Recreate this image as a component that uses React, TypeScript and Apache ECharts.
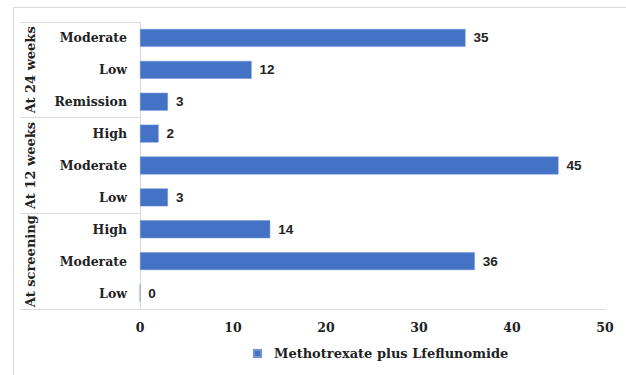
import React, { useEffect, useRef } from "react";
import * as echarts from "echarts";

const categories = ["Moderate", "Low", "Remission", "High", "Moderate", "Low", "High", "Moderate", "Low"];
const groups = ["At 24 weeks", "At 12 weeks", "At screening"];
const values = [35, 12, 3, 2, 45, 3, 14, 36, 0];
const seriesName = "Methotrexate plus Lfeflunomide";
const xTicks = { min: 0, max: 50, interval: 10 };

const SERIF = "'DejaVu Serif', serif";
const SANS = "'Liberation Sans', Arial, sans-serif";

export default function App() {
  const ref = useRef<HTMLDivElement>(null);
  useEffect(() => {
    if (!ref.current) return;
    const chart = echarts.init(ref.current, null, { renderer: "svg" });
    chart.setOption({
      animation: false,
      backgroundColor: "#fff",
      graphic: [
        {
          type: "rect",
          shape: { x: 13.5, y: 7.5, width: 640, height: 400 },
          style: { fill: "none", stroke: "#d9d9d9", lineWidth: 1 },
          silent: true,
        },
      ],
      grid: { left: 140, right: 21, top: 22, bottom: 66, containLabel: false },
      legend: {
        bottom: 10,
        left: 248,
        data: [seriesName],
        icon: "rect",
        itemWidth: 7,
        itemHeight: 7,
        itemGap: 9,
        textStyle: {
          fontFamily: SERIF,
          fontWeight: "bold",
          fontSize: 13,
          color: "#222",
          padding: [0, 0, 0, 8],
        },
      },
      xAxis: {
        type: "value",
        min: xTicks.min,
        max: xTicks.max,
        interval: xTicks.interval,
        splitLine: { show: false },
        axisLine: { show: true, lineStyle: { color: "#d9d9d9", width: 1 } },
        axisTick: { show: false },
        axisLabel: { fontFamily: SERIF, fontWeight: "bold", fontSize: 12.5, color: "#222", margin: 12 },
      },
      yAxis: [
        {
          type: "category",
          data: categories,
          inverse: true,
          axisLine: { show: true, lineStyle: { color: "#d9d9d9", width: 1 } },
          axisTick: { show: false },
          axisLabel: { interval: 0, fontFamily: SERIF, fontWeight: "bold", fontSize: 12.5, color: "#222", margin: 13 },
        },
        {
          type: "category",
          data: groups,
          inverse: true,
          position: "left",
          offset: 0,
          axisLine: { show: false },
          axisTick: { show: true, interval: 0, length: 120, lineStyle: { color: "#d9d9d9", width: 1 } },
          axisLabel: {
            interval: 0,
            hideOverlap: false,
            rotate: 90,
            fontFamily: SERIF,
            fontWeight: "bold",
            fontSize: 13,
            color: "#222",
            margin: 103,
          },
        },
      ],
      series: [
        {
          name: seriesName,
          type: "bar",
          yAxisIndex: 0,
          data: values,
          barWidth: "56%",
          itemStyle: { color: "#4472C4", borderColor: "#6f93d6", borderWidth: 0.5 },
          label: {
            show: true,
            position: "right",
            distance: 8,
            fontFamily: SANS,
            fontWeight: "bold",
            fontSize: 13.5,
            color: "#222",
          },
        },
      ],
    });
    return () => chart.dispose();
  }, []);
  return <div ref={ref} style={{ width: 626, height: 375, position: "absolute", left: 0, top: 0 }} />;
}
